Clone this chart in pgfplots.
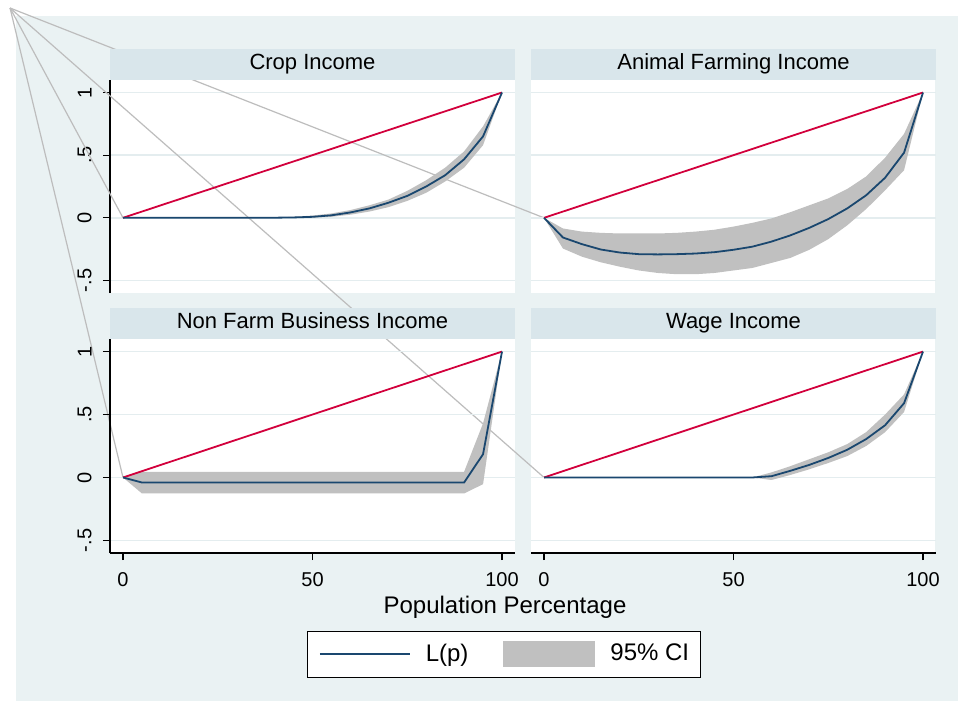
\documentclass[border=0pt]{standalone}
\usepackage{fontspec}
\setmainfont{Liberation Sans}
\usepackage{pgfplots}
\pgfplotsset{compat=1.18}
\definecolor{bgc}{HTML}{EAF2F3}
\definecolor{hdr}{HTML}{D9E6EB}
\definecolor{gridc}{HTML}{E4EDEF}
\definecolor{navy}{HTML}{1A476F}
\definecolor{redl}{HTML}{D2003C}
\definecolor{cigray}{HTML}{C0C0C0}
\definecolor{artc}{HTML}{BDBDBD}

\pgfplotsset{
 panel/.style={
  scale only axis, width=202.5pt, height=106.5pt, anchor=south west,
  xmin=-3.43, xmax=103.43, ymin=-0.6, ymax=1.1,
  ytick={-0.5,0,0.5,1}, ymajorgrids, major grid style={gridc, line width=0.75pt},
  axis x line*=bottom, axis y line*=left,
  axis line style={-, black, line width=0.6pt},
  tick align=outside, major tick length=3.5pt,
  tick style={black, line width=0.6pt},
  every axis title/.style={at={(0.5,1)}, anchor=south, fill=hdr, minimum width=202.5pt, minimum height=15.5pt, inner sep=0pt, text height=8pt, text depth=2.5pt, font=\fontsize{11}{13}\selectfont},
  tick label style={font=\fontsize{10}{12}\selectfont},
  yticklabel style={rotate=90, anchor=south, inner sep=0pt, yshift=5.5pt},
  xticklabel style={anchor=north, inner sep=0pt, yshift=-6pt},
  clip=false,
 },
 notx/.style={xtick=\empty, x axis line style={draw=none}},
 noty/.style={yticklabels={}, y axis line style={draw=none}, ytick style={draw=none}},
 withx/.style={xtick={0,50,100}, xticklabels={0,50,100}},
 withy/.style={yticklabels={-.5,0,.5,1}},
 ci/.style={fill=cigray, draw=none, forget plot},
 lp/.style={navy, line width=0.9pt, forget plot},
 eq/.style={redl, line width=0.9pt, forget plot},
}

\begin{document}
\begin{tikzpicture}
\fill[white] (0,0) rectangle (479pt,-350.5pt);
\fill[bgc] (8pt,-8pt) rectangle (479pt,-350.5pt);
\fill[white] (55pt,-40pt) rectangle (257.5pt,-146.5pt);
\fill[white] (265.5pt,-40pt) rectangle (467.5pt,-146.5pt);
\fill[white] (55pt,-169.5pt) rectangle (257.5pt,-276.5pt);
\fill[white] (265.5pt,-169.5pt) rectangle (467.5pt,-276.5pt);

% Crop Income
\begin{axis}[panel, notx, withy, at={(55pt,-146.5pt)}, title={Crop Income}]
\addplot[artc, line width=0.6pt, forget plot] coordinates {(-29.8,1.6746) (0,0)};
\addplot[artc, line width=0.6pt, forget plot] coordinates {(-29.8,1.6746) (111.08,0)};
\addplot[artc, line width=0.6pt, forget plot] coordinates {(-29.8,1.6746) (0,-2.0723)};
\addplot[artc, line width=0.6pt, forget plot] coordinates {(-29.8,1.6746) (111.08,-2.0723)};
\addplot[ci] coordinates {
(35,0) (40,0.003) (45,0.008) (50,0.018) (55,0.035) (60,0.062) (65,0.1) (70,0.145) (75,0.215) (80,0.3) (85,0.4) (90,0.53) (95,0.73) (100,1)
(95,0.58) (90,0.4) (85,0.29) (80,0.2) (75,0.135) (70,0.085) (65,0.05) (60,0.025) (55,0.008) (50,0.001) (45,0) (40,0)};
\addplot[eq] coordinates {(0,0) (100,1)};
\addplot[lp] coordinates {(0,0) (5,0) (10,0) (15,0) (20,0) (25,0) (30,0) (35,0) (40,0.001) (45,0.003) (50,0.008) (55,0.02) (60,0.043) (65,0.075) (70,0.12) (75,0.175) (80,0.25) (85,0.34) (90,0.467) (95,0.65) (100,1)};
\end{axis}

% Animal Farming Income
\begin{axis}[panel, notx, noty, at={(265.5pt,-146.5pt)}, title={Animal Farming Income}]
\addplot[ci] coordinates {
(0,0) (5,-0.085) (10,-0.11) (15,-0.12) (20,-0.125) (25,-0.125) (30,-0.125) (35,-0.12) (40,-0.11) (45,-0.095) (50,-0.07) (55,-0.04) (60,-0.005) (65,0.045) (70,0.1) (75,0.155) (80,0.23) (85,0.33) (90,0.48) (95,0.67) (100,1)
(95,0.38) (90,0.22) (85,0.07) (80,-0.06) (75,-0.17) (70,-0.255) (65,-0.32) (60,-0.36) (55,-0.4) (50,-0.42) (45,-0.44) (40,-0.45) (35,-0.45) (30,-0.44) (25,-0.42) (20,-0.39) (15,-0.355) (10,-0.31) (5,-0.245)};
\addplot[eq] coordinates {(0,0) (100,1)};
\addplot[lp] coordinates {(0,0) (5,-0.157) (10,-0.21) (15,-0.253) (20,-0.277) (25,-0.29) (30,-0.292) (35,-0.29) (40,-0.285) (45,-0.274) (50,-0.255) (55,-0.23) (60,-0.19) (65,-0.14) (70,-0.08) (75,-0.01) (80,0.075) (85,0.18) (90,0.32) (95,0.52) (100,1)};
\end{axis}

% Non Farm Business Income
\begin{axis}[panel, withx, withy, height=107pt, at={(55pt,-276.5pt)}, title={Non Farm Business Income},
  legend columns=2,
  legend style={at={(0.9728,-0.472)}, anchor=center, draw=black, line width=0.5pt, fill=white,
    inner xsep=5.5pt, inner ysep=5pt, font=\fontsize{12}{14}\selectfont,
    nodes={inner sep=0pt},
    /tikz/every odd column/.append style={column sep=7.5pt},
    /tikz/column 2/.append style={column sep=17.5pt}}]
\addlegendimage{legend image code/.code={\draw[navy, line width=1pt] (0pt,0pt) -- (45pt,0pt);}}
\addlegendentry{L(p)}
\addlegendimage{legend image code/.code={\fill[cigray] (0pt,-6.25pt) rectangle (45.5pt,6.25pt);}}
\addlegendentry{95\% CI}
\addplot[ci] coordinates {
(0,0) (5,0.045) (10,0.045) (20,0.045) (30,0.045) (40,0.045) (50,0.045) (60,0.045) (70,0.045) (80,0.045) (90,0.045) (95,0.43) (100,1)
(95,-0.053) (90,-0.127) (80,-0.127) (70,-0.127) (60,-0.127) (50,-0.127) (40,-0.127) (30,-0.127) (20,-0.127) (10,-0.127) (5,-0.127)};
\addplot[eq] coordinates {(0,0) (100,1)};
\addplot[lp] coordinates {(0,0) (5,-0.04) (10,-0.04) (15,-0.04) (20,-0.04) (25,-0.04) (30,-0.04) (35,-0.04) (40,-0.04) (45,-0.04) (50,-0.04) (55,-0.04) (60,-0.04) (65,-0.04) (70,-0.04) (75,-0.04) (80,-0.04) (85,-0.04) (90,-0.04) (95,0.185) (100,1)};
\end{axis}

% Wage Income
\begin{axis}[panel, withx, noty, height=107pt, at={(265.5pt,-276.5pt)}, title={Wage Income}]
\addplot[ci] coordinates {
(55,0) (60,0.04) (65,0.09) (70,0.145) (75,0.2) (80,0.265) (85,0.36) (90,0.5) (95,0.66) (100,1)
(95,0.52) (90,0.36) (85,0.25) (80,0.17) (75,0.115) (70,0.065) (65,0.02) (60,-0.02)};
\addplot[eq] coordinates {(0,0) (100,1)};
\addplot[lp] coordinates {(0,0) (5,0) (10,0) (15,0) (20,0) (25,0) (30,0) (35,0) (40,0) (45,0) (50,0) (55,0) (60,0.01) (65,0.053) (70,0.1) (75,0.155) (80,0.22) (85,0.305) (90,0.415) (95,0.59) (100,1)};
\end{axis}

\node[font=\fontsize{12}{14}\selectfont] at (252.5pt,-303.5pt) {Population Percentage};
\end{tikzpicture}
\end{document}
